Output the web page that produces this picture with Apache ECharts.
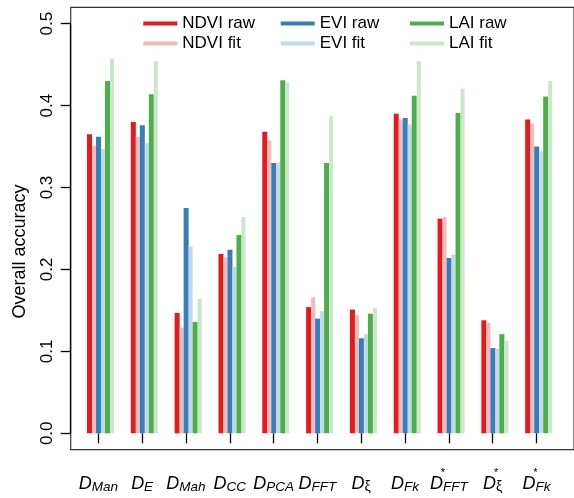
<!DOCTYPE html>
<html>
<head>
<meta charset="utf-8">
<script src="https://cdn.jsdelivr.net/npm/echarts@6/dist/echarts.min.js"></script>
<style>
  html, body { margin: 0; padding: 0; background: #fff; }
  #chart { width: 574px; height: 498px; }
</style>
</head>
<body>
<div id="chart"></div>
<script>
// Distance measures (subscript of D); the last three are the starred variants
const subscripts = ['Man', 'E', 'Mah', 'CC', 'PCA', 'FFT', 'ξ', 'Fk', 'FFT', 'ξ', 'Fk'];
const starred = [false, false, false, false, false, false, false, false, true, true, true];
const categories = subscripts.map((s, i) => 'D_' + s + (starred[i] ? '*' : ''));

// Overall accuracy per distance measure
const ndviRaw = [0.365, 0.380, 0.147, 0.219, 0.368, 0.154, 0.151, 0.390, 0.262, 0.138, 0.383];
const ndviFit = [0.351, 0.362, 0.129, 0.215, 0.357, 0.166, 0.144, 0.383, 0.264, 0.135, 0.378];
const eviRaw  = [0.362, 0.376, 0.275, 0.224, 0.330, 0.140, 0.116, 0.385, 0.214, 0.104, 0.350];
const eviFit  = [0.347, 0.354, 0.228, 0.203, 0.331, 0.149, 0.121, 0.377, 0.218, 0.103, 0.344];
const laiRaw  = [0.430, 0.414, 0.136, 0.242, 0.431, 0.330, 0.146, 0.412, 0.391, 0.121, 0.411];
const laiFit  = [0.457, 0.454, 0.164, 0.264, 0.428, 0.387, 0.153, 0.454, 0.421, 0.113, 0.430];

const yTicks = [0, 0.1, 0.2, 0.3, 0.4, 0.5];

const FONT = 'Liberation Sans';

const seriesDefs = [
  { name: 'NDVI raw', data: ndviRaw, color: '#E41A1C', width: 5 },
  { name: 'NDVI fit', data: ndviFit, color: '#F7BABB', width: 4 },
  { name: 'EVI raw',  data: eviRaw,  color: '#377EB8', width: 5 },
  { name: 'EVI fit',  data: eviFit,  color: '#C3D8EA', width: 4 },
  { name: 'LAI raw',  data: laiRaw,  color: '#4DAF4A', width: 5 },
  { name: 'LAI fit',  data: laiFit,  color: '#CAE7C9', width: 4 }
];

function legendColumn(names, left) {
  return {
    data: names,
    orient: 'vertical',
    left: left,
    top: 15,
    icon: 'rect',
    itemWidth: 34,
    itemHeight: 4,
    itemGap: 3,
    padding: 0,
    selectedMode: false,
    textStyle: { fontFamily: FONT, fontSize: 17, color: '#000' }
  };
}

// D with an italic subscript; starred measures get a small star over the subscript
function labelFormatter(value) {
  const body = value.slice(2);
  const star = body.endsWith('*');
  const sub = star ? body.slice(0, -1) : body;
  const subStyle = sub === 'ξ' ? 'g' : 's';
  return '{d|D}' + (star ? '{st|*}' : '') + '{' + subStyle + '|' + sub + '}';
}

const chart = echarts.init(document.getElementById('chart'), null, { renderer: 'canvas' });

chart.setOption({
  animation: false,
  backgroundColor: '#fff',
  grid: [
    // plot frame
    { left: 70.7, top: 7.3, right: -10, bottom: 48.3, show: true,
      borderColor: '#333', borderWidth: 1.2, backgroundColor: 'transparent' },
    // bars
    { left: 78.6, right: 13.4, top: 7.3, bottom: 48.3 },
    // category ticks and labels
    { left: 76.4, right: 15.6, top: 7.3, bottom: 48.3 },
    // accuracy axis
    { left: 70.7, right: -10, top: 23.7, bottom: 64.7 }
  ],
  xAxis: [
    { gridIndex: 0, type: 'value', show: false },
    { gridIndex: 1, type: 'category', data: categories, show: false },
    {
      gridIndex: 2, type: 'category', data: categories, boundaryGap: true,
      axisLine: { show: false },
      axisTick: { show: true, alignWithLabel: true, length: 10, lineStyle: { color: '#000', width: 1.3 } },
      axisLabel: {
        interval: 0, margin: 14, color: '#000', formatter: labelFormatter,
        rich: {
          d:  { fontFamily: FONT, fontStyle: 'italic', fontSize: 18, color: '#000', verticalAlign: 'top', padding: [11, 0, 0, 0], lineHeight: 34 },
          s:  { fontFamily: FONT, fontStyle: 'italic', fontSize: 13.5, color: '#000', verticalAlign: 'top', padding: [17, 0, 0, 0], lineHeight: 34 },
          g:  { fontFamily: FONT, fontStyle: 'normal', fontSize: 14, color: '#000', verticalAlign: 'top', padding: [16, 0, 0, 0], lineHeight: 34 },
          st: { fontFamily: FONT, fontSize: 11, color: '#000', verticalAlign: 'top', width: 0.001, padding: [4, 0, 0, 0], lineHeight: 34 }
        }
      },
      splitLine: { show: false }
    },
    { gridIndex: 3, type: 'value', show: false }
  ],
  yAxis: [
    { gridIndex: 0, type: 'value', show: false },
    { gridIndex: 1, type: 'value', min: -0.02, max: 0.52, show: false },
    { gridIndex: 2, type: 'value', min: -0.02, max: 0.52, show: false },
    {
      gridIndex: 3, type: 'value', min: yTicks[0], max: yTicks[yTicks.length - 1], interval: 0.1,
      axisLine: { show: true, lineStyle: { color: '#000', width: 1.3 } },
      axisTick: { show: true, length: 10, lineStyle: { color: '#000', width: 1.3 } },
      axisLabel: {
        rotate: 90, margin: 15, color: '#000', fontFamily: FONT, fontSize: 17,
        formatter: v => v.toFixed(1)
      },
      splitLine: { show: false },
      name: 'Overall accuracy',
      nameLocation: 'middle',
      nameRotate: 90,
      nameGap: 42,
      nameTextStyle: { fontFamily: FONT, fontSize: 18, color: '#000', padding: [0, 46, 0, 0] }
    }
  ],
  legend: [
    legendColumn(['NDVI raw', 'NDVI fit'], 143.3),
    legendColumn(['EVI raw', 'EVI fit'], 280.7),
    legendColumn(['LAI raw', 'LAI fit'], 410)
  ],
  series: seriesDefs.map(s => ({
    name: s.name,
    type: 'bar',
    xAxisIndex: 1,
    yAxisIndex: 1,
    data: s.data,
    barWidth: s.width,
    barGap: '0%',
    itemStyle: { color: s.color },
    emphasis: { disabled: true }
  }))
});
</script>
</body>
</html>
